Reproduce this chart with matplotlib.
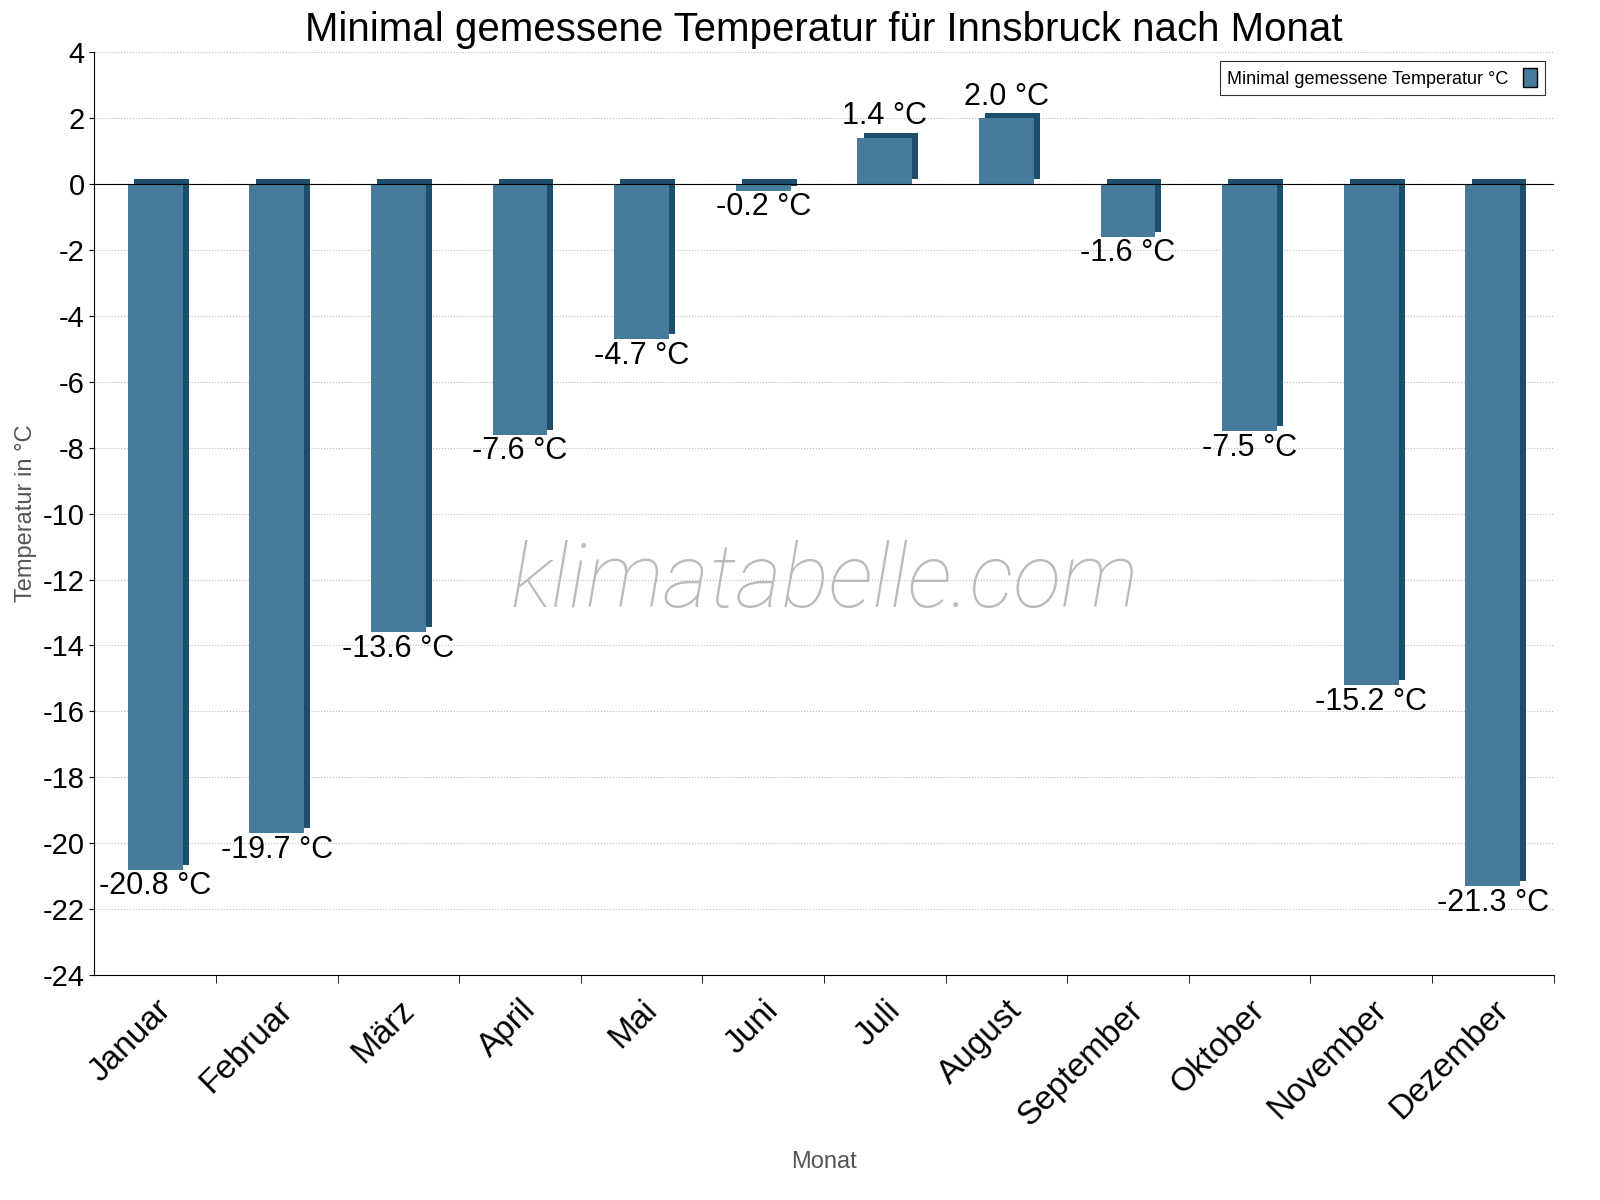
import matplotlib.pyplot as plt
from matplotlib.patches import Patch

plt.rcParams['font.family'] = 'Liberation Sans'
plt.rcParams['axes.unicode_minus'] = False

months = ['Januar', 'Februar', 'März', 'April', 'Mai', 'Juni', 'Juli',
          'August', 'September', 'Oktober', 'November', 'Dezember']
temps = [-20.8, -19.7, -13.6, -7.6, -4.7, -0.2, 1.4, 2.0, -1.6, -7.5, -15.2, -21.3]

face = '#467b9c'
side = '#1d4e6e'

fig = plt.figure(figsize=(16, 12), dpi=100)
ax = fig.add_axes([0.059, 0.1875, 0.912, 0.769])

x = list(range(len(months)))
w = 0.45
dx, dy = 0.05, 0.15
# 3D side / top shading
ax.bar([i + dx for i in x], temps, width=w, bottom=dy, color=side, zorder=2)
ax.bar(x, temps, width=w, color=face, zorder=3)

for i, t in zip(x, temps):
    if t >= 0:
        ax.text(i, t + 0.2, f'{t:.1f} °C', ha='center', va='bottom', fontsize=22, zorder=5)
    else:
        ax.text(i, t - 0.05, f'{t:.1f} °C', ha='center', va='top', fontsize=22, zorder=5)

ax.axhline(0, color='black', lw=0.8, zorder=4)
ax.set_xlim(-0.5, len(months) - 0.5)
ax.set_ylim(-24, 4)
ax.set_yticks(range(-24, 5, 2))
ax.tick_params(axis='y', labelsize=21)
ax.set_xticks(x)
ax.set_xticklabels(months, rotation=45, ha='right', rotation_mode='anchor', fontsize=24)
ax.tick_params(axis='x', length=0, pad=14)
ax.set_xticks([i + 0.5 for i in x], minor=True)
ax.tick_params(axis='x', which='minor', length=6)
ax.grid(axis='y', linestyle=':', color='#bbbbbb', zorder=0)
for s in ['top', 'right']:
    ax.spines[s].set_visible(False)

ax.set_title('Minimal gemessene Temperatur für Innsbruck nach Monat', fontsize=29, pad=8)
ax.set_ylabel('Temperatur in °C', fontsize=17, color='#555555')
ax.set_xlabel('Monat', fontsize=17, color='#555555', labelpad=14)

ax.text(0.5, 0.425, 'klimatabelle.com', transform=ax.transAxes, ha='center', va='center',
        fontsize=64, color='#bbbbbb', style='italic', family='Roboto', fontweight='light',
        zorder=1)

leg = ax.legend(handles=[Patch(facecolor=face, edgecolor='black')],
                labels=['Minimal gemessene Temperatur °C'], loc='upper right',
                markerfirst=False, fontsize=13, fancybox=False, edgecolor='black',
                handlelength=0.8, handleheight=1.2)
leg.get_frame().set_linewidth(0.8)

fig.savefig('out.png')
